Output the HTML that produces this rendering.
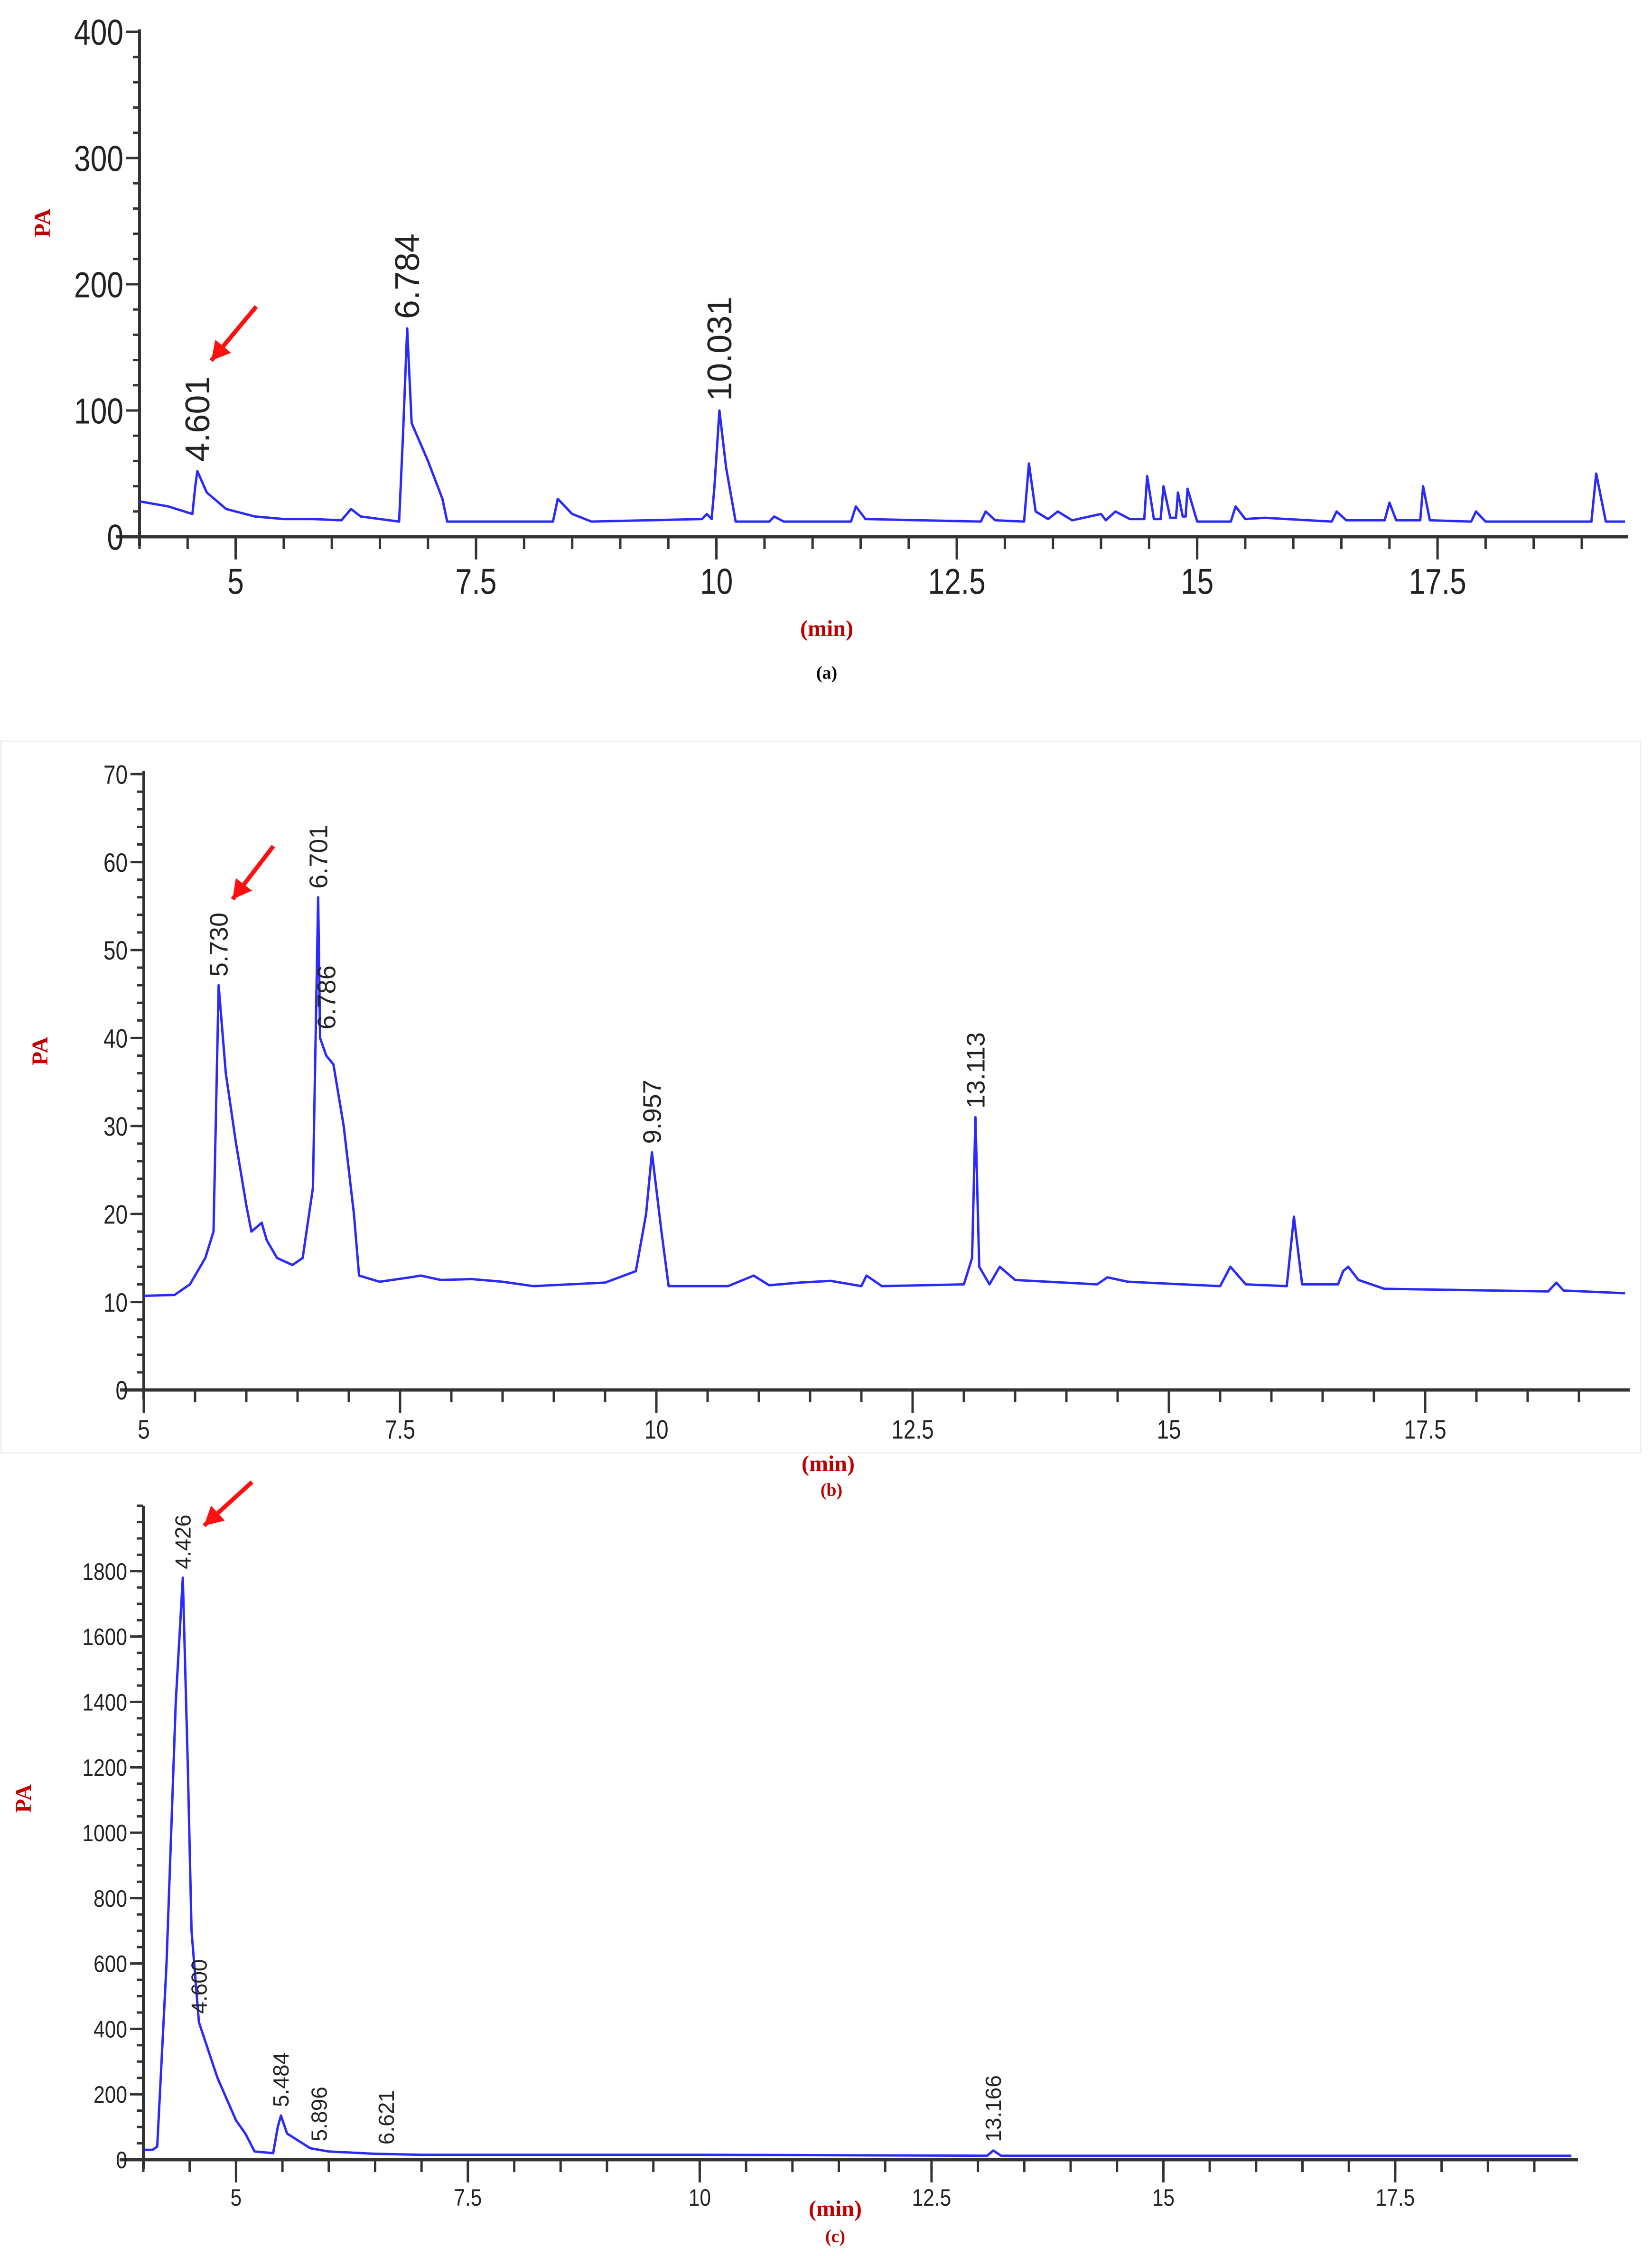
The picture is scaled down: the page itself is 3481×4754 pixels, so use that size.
<!DOCTYPE html>
<html><head><meta charset="utf-8">
<style>
html,body{margin:0;padding:0;background:#fff;}
svg{display:block;}
text{font-family:"Liberation Sans",sans-serif;}
.tick{fill:#222;}
.ttl{font-family:"Liberation Serif",serif;font-weight:bold;fill:#c00000;}
</style></head>
<body>
<svg id="fig" width="3481" height="4754" viewBox="0 0 3481 4754" xmlns="http://www.w3.org/2000/svg">
<rect x="0" y="0" width="3481" height="4754" fill="#fff"/>
<rect x="2" y="1562" width="3455" height="1500" fill="none" stroke="#eeeeee" stroke-width="3"/>
</svg>
<script>
// ---- Panel (a) data ----
const aTimes=[4.0,4.3,4.55,4.58,4.601,4.7,4.9,5.2,5.5,5.8,6.1,6.2,6.3,6.7,6.74,6.784,6.83,7.0,7.15,7.2,8.3,8.35,8.5,8.7,9.85,9.9,9.95,9.98,10.031,10.1,10.2,10.55,10.6,10.7,11.4,11.45,11.55,12.75,12.8,12.9,13.2,13.25,13.32,13.45,13.55,13.7,14.0,14.05,14.15,14.3,14.45,14.48,14.55,14.62,14.65,14.72,14.78,14.8,14.85,14.88,14.9,15.0,15.35,15.4,15.5,15.7,16.4,16.45,16.55,16.95,17.0,17.07,17.32,17.35,17.42,17.85,17.9,18.0,19.1,19.15,19.25,19.45];
const aValues=[28,24,18,40,52,35,22,16,14,14,13,22,16,12,80,165,90,60,30,12,12,30,18,12,14,18,14,40,100,55,12,12,16,12,12,24,14,12,20,13,12,58,20,14,20,13,18,13,20,14,14,48,14,14,40,15,15,35,16,16,38,12,12,24,14,15,12,20,13,13,27,13,13,40,13,12,20,12,12,50,12,12];
const aYTicks=[0,100,200,300,400];
const aXTicks=[5,7.5,10,12.5,15,17.5];
const aPeakTimes=[4.601,6.784,10.031];
const aPeakValues=[52,165,100];
const aPeakLabels=["4.601","6.784","10.031"];
// ---- Panel (b) data ----
const bTimes=[5.0,5.3,5.45,5.6,5.68,5.73,5.8,5.9,6.0,6.05,6.15,6.2,6.3,6.45,6.55,6.65,6.701,6.72,6.78,6.85,6.95,7.05,7.1,7.3,7.6,7.7,7.9,8.2,8.5,8.8,9.5,9.8,9.9,9.957,10.05,10.12,10.7,10.95,11.1,11.4,11.7,12.0,12.05,12.2,13.0,13.08,13.113,13.15,13.25,13.35,13.5,14.3,14.4,14.6,15.5,15.6,15.75,16.15,16.22,16.3,16.65,16.7,16.75,16.85,17.1,18.7,18.78,18.85,19.45];
const bValues=[10.7,10.8,12,15,18,46,36,28,21,18,19,17,15,14.2,15,23,56,40,38,37,30,20,13,12.3,12.8,13,12.5,12.6,12.3,11.8,12.2,13.5,20,27,18,11.8,11.8,13,11.9,12.2,12.4,11.8,13,11.8,12,15,31,14,12,14,12.5,12,12.8,12.3,11.8,14,12,11.8,19.7,12,12,13.5,14,12.5,11.5,11.2,12.2,11.3,11];
const bYTicks=[0,10,20,30,40,50,60,70];
const bXTicks=[5,7.5,10,12.5,15,17.5];
const bPeakTimes=[5.73,6.701,6.78,9.957,13.113];
const bPeakValues=[46,56,40,27,31];
const bPeakLabels=["5.730","6.701","6.786","9.957","13.113"];
// ---- Panel (c) data ----
const cTimes=[4.0,4.1,4.15,4.25,4.35,4.426,4.48,4.52,4.6,4.8,5.0,5.1,5.2,5.4,5.45,5.484,5.55,5.8,6.0,6.5,7.0,10.0,13.1,13.166,13.25,19.4];
const cValues=[30,30,40,600,1400,1780,1200,700,420,250,120,80,25,20,100,135,80,35,25,18,15,15,12,28,12,12];
const cYTicks=[0,200,400,600,800,1000,1200,1400,1600,1800];
const cXTicks=[5,7.5,10,12.5,15,17.5];
const cPeakTimes=[4.426,4.6,5.484,5.896,6.621,13.166];
const cPeakValues=[1780,420,135,30,20,28];
const cPeakLabels=["4.426","4.600","5.484","5.896","6.621","13.166"];

const NS="http://www.w3.org/2000/svg";
const svg=document.getElementById('fig');
function mk(tag,attrs,parent){const e=document.createElementNS(NS,tag);for(const k in attrs)e.setAttribute(k,attrs[k]);(parent||svg).appendChild(e);return e;}

function panel(cfg){
  const g=mk('g',{});
  
  
  const X=t=>cfg.x0+(t-cfg.t0)*cfg.px;
  const Y=v=>cfg.y0-(v-0)*cfg.py;
  const ya=mk('line',{x1:cfg.x0,y1:cfg.yTop,x2:cfg.x0,y2:cfg.y0+20,stroke:'#333','stroke-width':6},g);
  
  const xa=mk('line',{x1:cfg.x0-50,y1:cfg.y0,x2:cfg.xEnd,y2:cfg.y0,stroke:'#333','stroke-width':7},g);
  
  for(let v=0;v<=cfg.yMax+1e-9;v+=cfg.yMinor){
    mk('line',{x1:cfg.x0-14,y1:Y(v),x2:cfg.x0,y2:Y(v),stroke:'#333','stroke-width':5},g);
  }
  cfg.yTicks.forEach(v=>{
    mk('line',{x1:cfg.x0-28,y1:Y(v),x2:cfg.x0,y2:Y(v),stroke:'#333','stroke-width':5},g);
    const tg=mk('g',{transform:`translate(${cfg.x0-34},${Y(v)+cfg.fs*0.36}) scale(${cfg.sx},1)`},g);
    const t=mk('text',{x:0,y:0,'text-anchor':'end','font-size':cfg.fs,class:'tick'},tg);
    t.textContent=String(v);
    
  });
  for(let t=Math.ceil(cfg.t0/0.5)*0.5;t<=cfg.tEnd;t+=0.5){
    mk('line',{x1:X(t),y1:cfg.y0,x2:X(t),y2:cfg.y0+26,stroke:'#333','stroke-width':5},g);
  }
  cfg.xTicks.forEach(t=>{
    mk('line',{x1:X(t),y1:cfg.y0,x2:X(t),y2:cfg.y0+48,stroke:'#333','stroke-width':5},g);
    const tg=mk('g',{transform:`translate(${X(t)},${cfg.y0+52+cfg.fs*0.9}) scale(${cfg.sx},1)`},g);
    const tx=mk('text',{x:0,y:0,'text-anchor':'middle','font-size':cfg.fs,class:'tick'},tg);
    tx.textContent=String(t);
    
  });
  let d='';
  cfg.times.forEach((t,i)=>{d+=(i?'L':'M')+X(t).toFixed(1)+' '+Y(Math.min(cfg.values[i],cfg.yMax*1.05)).toFixed(1);});
  const p=mk('path',{d:d,fill:'none',stroke:'#2a2aff','stroke-width':5,'stroke-linejoin':'round'},g);
  
  cfg.peakTimes.forEach((t,i)=>{
    const px=X(t)+cfg.pfs*0.35, py=Y(cfg.peakValues[i])-cfg.gap;
    const lt=mk('text',{x:px,y:py,'font-size':cfg.pfs,fill:'#222',transform:`rotate(-90 ${px} ${py})`},g);
    lt.textContent=cfg.peakLabels[i];
    
  });
  const a=cfg.arrow;
  const ar=mk('line',{x1:a[0],y1:a[1],x2:a[2],y2:a[3],stroke:'#ff1010','stroke-width':9},g);
  
  const ang=Math.atan2(a[3]-a[1],a[2]-a[0]);const L=45;
  mk('polygon',{points:`${a[2]},${a[3]} ${a[2]-L*Math.cos(ang-0.5)},${a[3]-L*Math.sin(ang-0.5)} ${a[2]-L*Math.cos(ang+0.5)},${a[3]-L*Math.sin(ang+0.5)}`,fill:'#ff1010'},g);
  const pa=mk('text',{x:cfg.pa[0],y:cfg.pa[1],'font-size':48,class:'ttl',transform:`rotate(-90 ${cfg.pa[0]} ${cfg.pa[1]})`,'text-anchor':'middle'},g);
  pa.textContent='PA';
  const mn=mk('text',{x:cfg.min[0],y:cfg.min[1],'font-size':48,class:'ttl','text-anchor':'middle'},g);
  mn.textContent='(min)';
  const cp=mk('text',{x:cfg.cap[0],y:cfg.cap[1],'font-size':38,class:'ttl','text-anchor':'middle',style:cfg.capColor?'fill:'+cfg.capColor:''},g);
  cp.textContent=cfg.capText;
}

panel({name:'panel-a',times:aTimes,values:aValues,yTicks:aYTicks,xTicks:aXTicks,peakTimes:aPeakTimes,peakValues:aPeakValues,peakLabels:aPeakLabels,
  x0:294,t0:4,px:202.6,tEnd:19.45,xEnd:3430,y0:1131,py:2.66,yMax:400,yMinor:20,yTop:62,fs:76,sx:0.82,pfs:72,gap:20,
  arrow:[540,646,445,760],pa:[105,470],min:[1742,1340],cap:[1742,1430],capText:'(a)',capColor:'#000'});
panel({name:'panel-b',times:bTimes,values:bValues,yTicks:bYTicks,xTicks:bXTicks,peakTimes:bPeakTimes,peakValues:bPeakValues,peakLabels:bPeakLabels,
  x0:303,t0:5,px:216,tEnd:19.45,xEnd:3435,y0:2929,py:18.54,yMax:70,yMinor:2,yTop:1625,fs:56,sx:0.82,pfs:54,gap:18,
  arrow:[576,1783,490,1895],pa:[100,2215],min:[1745,3100],cap:[1752,3152],capText:'(b)'});
panel({name:'panel-c',times:cTimes,values:cValues,yTicks:cYTicks,xTicks:cXTicks,peakTimes:cPeakTimes,peakValues:cPeakValues,peakLabels:cPeakLabels,
  x0:302,t0:4,px:195.4,tEnd:19.4,xEnd:3325,y0:4551,py:0.689,yMax:2000,yMinor:50,yTop:3174,fs:50,sx:0.85,pfs:46,gap:18,
  arrow:[531,3123,430,3215],pa:[65,3790],min:[1760,4670],cap:[1760,4725],capText:'(c)'});
</script>
</body></html>
